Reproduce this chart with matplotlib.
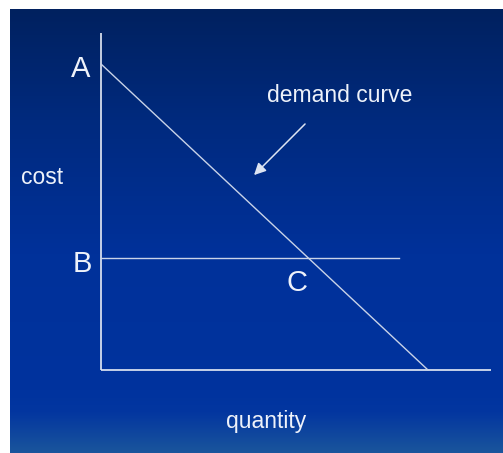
import numpy as np
import matplotlib.pyplot as plt
from matplotlib.colors import LinearSegmentedColormap

# demand line from A (price intercept) down to the quantity intercept
demand_q = [0.0, 10.0]
demand_cost = [10.0, 0.0]

# horizontal cost level through B, crossing the demand line at C
cost_b = 3.66
cost_line_q = [0.0, 9.1]

# axis extents
axis_q_max = 11.93
axis_cost_max = 11.0

# arrow pointing at the demand line
arrow_tail = (6.24, 8.04)
arrow_head = (4.68, 6.37)

point_labels = ['A', 'B', 'C']
point_xy = [(-0.61, 9.575), (-0.58, 3.20), (5.99, 2.58)]

fig = plt.figure(figsize=(5.03, 4.53), dpi=100)
fig.patch.set_facecolor('white')

# blue slide background with vertical gradient
bg = fig.add_axes([10/503, 0, 493/503, 444/453])
bg.axis('off')
cmap = LinearSegmentedColormap.from_list('slide', [
    (0.0, '#01215f'),
    (0.25, '#002a7e'),
    (0.55, '#00319a'),
    (0.86, '#00339e'),
    (0.91, '#0336a0'),
    (1.0, '#1a559c'),
])
grad = np.linspace(0, 1, 256).reshape(-1, 1)
bg.imshow(grad, aspect='auto', cmap=cmap, extent=[0, 1, 1, 0])
bg.set_xlim(0, 1)
bg.set_ylim(1, 0)

ax = fig.add_axes([0, 0, 1, 1])
ax.patch.set_alpha(0)
ax.axis('off')
ax.set_xlim(-101/32.7, (503-101)/32.7)
ax.set_ylim(-(453-370)/30.6, 370/30.6)

line_col = '#c9d3e8'
text_col = '#eef2fa'

ax.plot([0, 0], [0, axis_cost_max], color='#e6ebf5', lw=1.2, solid_capstyle='butt')
ax.plot([0, axis_q_max], [0, 0], color='#e6ebf5', lw=1.2, solid_capstyle='butt')
ax.plot(demand_q, demand_cost, color=line_col, lw=1.0)
ax.plot(cost_line_q, [cost_b, cost_b], color=line_col, lw=1.0)

ax.annotate('', xy=arrow_head, xytext=arrow_tail,
            arrowprops=dict(arrowstyle='-|>,head_length=0.7,head_width=0.35',
                            color='#dde4f2', lw=1.1, shrinkA=0, shrinkB=0))

font = 'Liberation Sans'
for lab, (x, y) in zip(point_labels, point_xy):
    ax.text(x, y, lab, ha='center', va='baseline', fontsize=21,
            color=text_col, family=font)

ax.text(-1.80, 6.08, 'cost', ha='center', va='baseline', fontsize=16.5,
        color=text_col, family=font)
ax.text(7.31, 8.76, 'demand curve', ha='center', va='baseline', fontsize=16.5,
        color=text_col, family=font)
ax.text(5.05, -1.90, 'quantity', ha='center', va='baseline', fontsize=16.5,
        color=text_col, family=font)

fig.savefig('out.png', dpi=100)
